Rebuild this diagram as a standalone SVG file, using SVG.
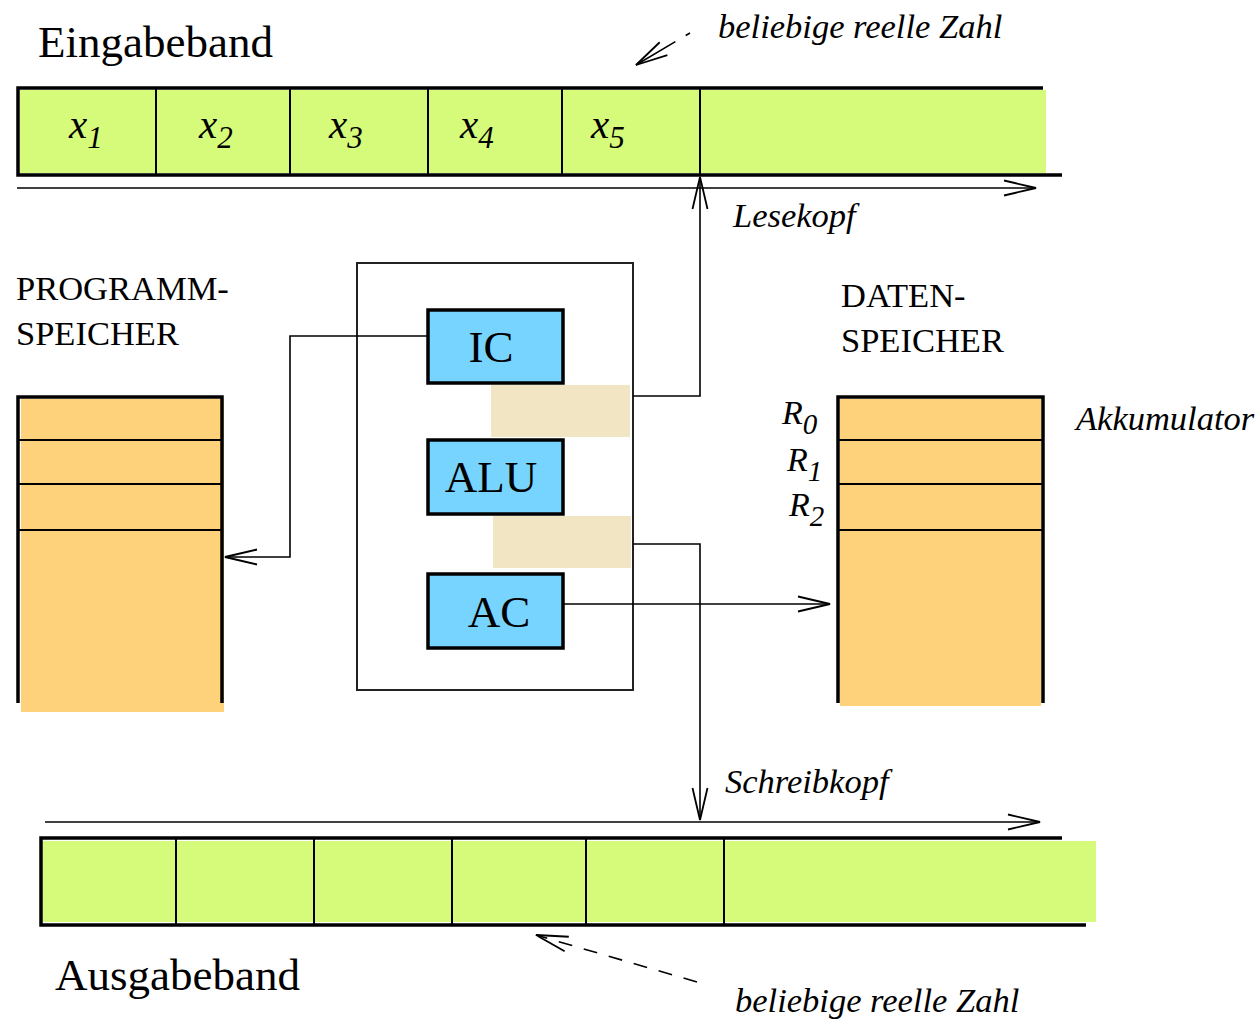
<svg xmlns="http://www.w3.org/2000/svg" width="1260" height="1023" viewBox="0 0 1260 1023">
<style>
.serif{font-family:"Liberation Serif","Times New Roman",serif;fill:#000}
.it{font-style:italic}
.thick{stroke:#000;stroke-width:3.5;fill:none}
.thin{stroke:#000;stroke-width:2;fill:none}
.line{stroke:#000;stroke-width:1.6;fill:none}
.tape{fill:#d6fb7a}
.mem{fill:#fed27a}
.reg{fill:#77d4ff;stroke:#000;stroke-width:3.5}
.paper{fill:#f1e5c3}
</style>
<defs>
<marker id="ah" viewBox="-36 -10 40 20" markerWidth="40" markerHeight="20" refX="0" refY="0" orient="auto" markerUnits="userSpaceOnUse">
<path d="M-32,-7.5 L0,0 L-32,7.5" fill="none" stroke="#000" stroke-width="1.8"/>
</marker>
</defs>

<g id="eingabeband">
<rect class="tape" x="20" y="90" width="1026" height="83"/>
<path class="thick" d="M1043,88 H18 V175 H1062"/>
<path class="thin" d="M156,88 V175 M290,88 V175 M428,88 V175 M562,88 V175 M700,88 V175"/>
<text class="serif" x="38" y="57" font-size="45">Eingabeband</text>
<text class="serif it" x="69" y="138" font-size="41">x<tspan font-size="31" dy="10">1</tspan></text>
<text class="serif it" x="199" y="138" font-size="41">x<tspan font-size="31" dy="10">2</tspan></text>
<text class="serif it" x="329" y="138" font-size="41">x<tspan font-size="31" dy="10">3</tspan></text>
<text class="serif it" x="460" y="138" font-size="41">x<tspan font-size="31" dy="10">4</tspan></text>
<text class="serif it" x="591" y="138" font-size="41">x<tspan font-size="31" dy="10">5</tspan></text>
</g>

<g id="programmspeicher">
<rect class="mem" x="21" y="399" width="203" height="313"/>
<path class="thick" d="M18,703 V397 H222 V703"/>
<path class="thin" d="M19,440 H222 M19,484 H222 M19,530 H222"/>
<text class="serif" x="16" y="300" font-size="34.5">PROGRAMM-</text>
<text class="serif" x="16" y="345" font-size="34.5">SPEICHER</text>
</g>

<g id="cpu">
<rect x="357" y="263" width="276" height="427" fill="none" stroke="#222" stroke-width="2"/>
<rect class="paper" x="491" y="385" width="139" height="52"/>
<rect class="paper" x="493" y="516" width="138" height="52"/>
</g>

<g id="ic">
<rect class="reg" x="428" y="310" width="135" height="73"/>
<text class="serif" x="491" y="362" font-size="45" text-anchor="middle">IC</text>
</g>
<g id="alu">
<rect class="reg" x="428" y="440" width="135" height="74"/>
<text class="serif" x="491" y="492" font-size="45" text-anchor="middle">ALU</text>
</g>
<g id="ac">
<rect class="reg" x="428" y="574" width="135" height="74"/>
<text class="serif" x="499" y="627" font-size="45" text-anchor="middle">AC</text>
</g>

<g id="datenspeicher">
<rect class="mem" x="840" y="399" width="201" height="307"/>
<path class="thick" d="M838,703 V397 H1043 V703"/>
<path class="thin" d="M839,440 H1042 M839,484 H1042 M839,530 H1042"/>
<text class="serif" x="841" y="307" font-size="34.5">DATEN-</text>
<text class="serif" x="841" y="352" font-size="34.5">SPEICHER</text>
<text class="serif it" x="782" y="424" font-size="34">R<tspan font-size="29" dy="10">0</tspan></text>
<text class="serif it" x="787" y="471" font-size="34">R<tspan font-size="29" dy="10">1</tspan></text>
<text class="serif it" x="789" y="516" font-size="34">R<tspan font-size="29" dy="10">2</tspan></text>
<text class="serif it" x="1076" y="430" font-size="34.5">Akkumulator</text>
</g>

<g id="ausgabeband">
<rect class="tape" x="43" y="841" width="1053" height="81"/>
<path class="thick" d="M1062,838 H41 V925 H1086"/>
<path class="thin" d="M176,838 V925 M314,838 V925 M452,838 V925 M586,838 V925 M724,838 V925"/>
<text class="serif" x="55" y="990" font-size="45">Ausgabeband</text>
</g>

<g id="connectors">
<path class="line" d="M17,188 H1036" marker-end="url(#ah)"/>
<path class="line" d="M633,396 H700 V177" marker-end="url(#ah)"/>
<path class="line" d="M428,336 H290 V557 H225" marker-end="url(#ah)"/>
<path class="line" d="M633,544 H700 V820" marker-end="url(#ah)"/>
<path class="line" d="M563,604 H830" marker-end="url(#ah)"/>
<path class="line" d="M45,822 H1040" marker-end="url(#ah)"/>
<path class="line" d="M690,33 L636,65" stroke-dasharray="5 12 60 0" marker-end="url(#ah)"/>
<path class="line" d="M697,982 L536,935" stroke-dasharray="14 12" marker-end="url(#ah)"/>
<text class="serif it" x="718" y="38" font-size="34.5">beliebige reelle Zahl</text>
<text class="serif it" x="733" y="227" font-size="34.5">Lesekopf</text>
<text class="serif it" x="725" y="793" font-size="34.5">Schreibkopf</text>
<text class="serif it" x="735" y="1012" font-size="34.5">beliebige reelle Zahl</text>
</g>
</svg>
